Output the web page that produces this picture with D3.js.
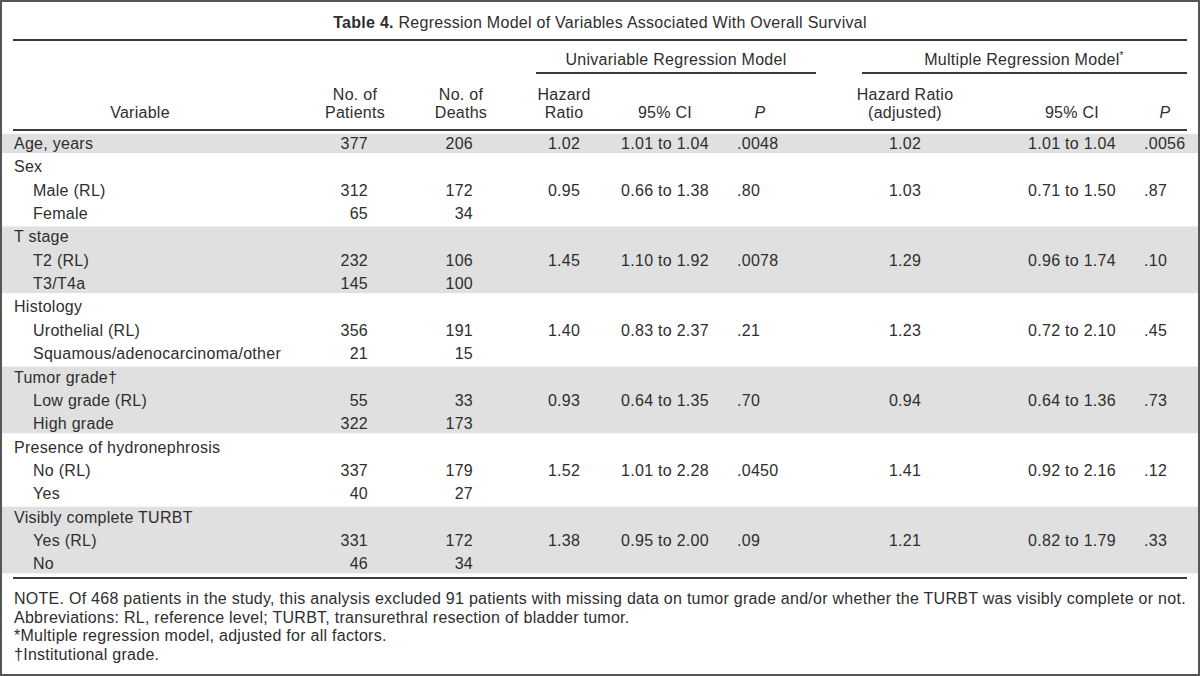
<!DOCTYPE html>
<html>
<head>
<meta charset="utf-8">
<script src="https://cdn.jsdelivr.net/npm/d3@7"></script>
<style>
  html, body { margin: 0; padding: 0; background: #fff; }
  svg { display: block; }
  text { font-family: "Liberation Sans", Arial, sans-serif; fill: #2e2e2e; letter-spacing: 0.27px; }
</style>
</head>
<body>
<svg id="chart" width="1200" height="676"></svg>
<script>
// ---------- data ----------
const titleBold = "Table 4.";
const titleRest = " Regression Model of Variables Associated With Overall Survival";

const spanHeaders = ["Univariable Regression Model", "Multiple Regression Model"];

const rowLabels = [
  "Age, years", "Sex", "Male (RL)", "Female", "T stage", "T2 (RL)", "T3/T4a",
  "Histology", "Urothelial (RL)", "Squamous/adenocarcinoma/other",
  "Tumor grade\u2020", "Low grade (RL)", "High grade",
  "Presence of hydronephrosis", "No (RL)", "Yes",
  "Visibly complete TURBT", "Yes (RL)", "No"
];
const rowLevels = [0, 0, 1, 1, 0, 1, 1, 0, 1, 1, 0, 1, 1, 0, 1, 1, 0, 1, 1];
const patients = ["377", "", "312", "65", "", "232", "145", "", "356", "21", "", "55", "322", "", "337", "40", "", "331", "46"];
const deaths   = ["206", "", "172", "34", "", "106", "100", "", "191", "15", "", "33", "173", "", "179", "27", "", "172", "34"];
const hr       = ["1.02", "", "0.95", "", "", "1.45", "", "", "1.40", "", "", "0.93", "", "", "1.52", "", "", "1.38", ""];
const ci       = ["1.01 to 1.04", "", "0.66 to 1.38", "", "", "1.10 to 1.92", "", "", "0.83 to 2.37", "", "", "0.64 to 1.35", "", "", "1.01 to 2.28", "", "", "0.95 to 2.00", ""];
const pUni     = [".0048", "", ".80", "", "", ".0078", "", "", ".21", "", "", ".70", "", "", ".0450", "", "", ".09", ""];
const hrAdj    = ["1.02", "", "1.03", "", "", "1.29", "", "", "1.23", "", "", "0.94", "", "", "1.41", "", "", "1.21", ""];
const ciAdj    = ["1.01 to 1.04", "", "0.71 to 1.50", "", "", "0.96 to 1.74", "", "", "0.72 to 2.10", "", "", "0.64 to 1.36", "", "", "0.92 to 2.16", "", "", "0.82 to 1.79", ""];
const pAdj     = [".0056", "", ".87", "", "", ".10", "", "", ".45", "", "", ".73", "", "", ".12", "", "", ".33", ""];

// shaded row groups [first, last] indices
const shadedGroups = [[0, 0], [4, 6], [10, 12], [16, 18]];

const notes = [
  "NOTE. Of 468 patients in the study, this analysis excluded 91 patients with missing data on tumor grade and/or whether the TURBT was visibly complete or not.",
  "Abbreviations: RL, reference level; TURBT, transurethral resection of bladder tumor.",
  "*Multiple regression model, adjusted for all factors.",
  "\u2020Institutional grade."
];

// ---------- layout ----------
const svg = d3.select("#chart");
const W = 1200, H = 676;
const left = 13, right = 1187;
const fs = 16;

const y = d3.scaleLinear().domain([0, rowLabels.length - 1]).range([143, 563.4]);

const columns = [
  { key: "patients", vals: patients, x: 368, anchor: "end", head: ["No. of", "Patients"], hx: 355 },
  { key: "deaths", vals: deaths, x: 473, anchor: "end", head: ["No. of", "Deaths"], hx: 461 },
  { key: "hr", vals: hr, x: 564, anchor: "middle", head: ["Hazard", "Ratio"], hx: 564 },
  { key: "ci", vals: ci, x: 665, anchor: "middle", head: ["95% CI"], hx: 665 },
  { key: "p", vals: pUni, x: 737, anchor: "start", head: ["P"], hx: 760, italic: true },
  { key: "hrAdj", vals: hrAdj, x: 905, anchor: "middle", head: ["Hazard Ratio", "(adjusted)"], hx: 905 },
  { key: "ciAdj", vals: ciAdj, x: 1072, anchor: "middle", head: ["95% CI"], hx: 1072 },
  { key: "pAdj", vals: pAdj, x: 1144, anchor: "start", head: ["P"], hx: 1165, italic: true }
];

// outer frame
svg.append("rect").attr("x", 1).attr("y", 1).attr("width", W - 2).attr("height", H - 2)
  .attr("fill", "#fff").attr("stroke", "#555").attr("stroke-width", 2);

// shading
svg.selectAll("rect.shade").data(shadedGroups).join("rect")
  .attr("class", "shade")
  .attr("x", 2).attr("width", W - 4)
  .attr("y", d => d[0] === 0 ? 134 : y(d[0]) - 10)
  .attr("height", d => (y(d[1]) + 10) - (d[0] === 0 ? 134 : y(d[0]) - 10))
  .attr("fill", "#e0e0e0");

// title
const t = svg.append("text").attr("x", 600).attr("y", 28).attr("text-anchor", "middle")
  .style("font-size", "16px");
t.append("tspan").attr("font-weight", "bold").text(titleBold);
t.append("tspan").text(titleRest);

// rules
const rules = [
  { x1: left, x2: right, y: 40, w: 2 },
  { x1: 536, x2: 816, y: 73, w: 2 },
  { x1: 862, x2: right, y: 73, w: 2 },
  { x1: left, x2: right, y: 130, w: 2.2 },
  { x1: left, x2: right, y: 578, w: 2 }
];
svg.selectAll("line.rule").data(rules).join("line")
  .attr("class", "rule")
  .attr("x1", d => d.x1).attr("x2", d => d.x2)
  .attr("y1", d => d.y).attr("y2", d => d.y)
  .attr("stroke", "#3a3a3a").attr("stroke-width", d => d.w);

// spanning headers
const spanX = [676, 1024];
svg.selectAll("text.span").data(spanHeaders).join("text")
  .attr("class", "span")
  .attr("x", (d, i) => spanX[i]).attr("y", 65)
  .attr("text-anchor", "middle").style("font-size", fs + "px")
  .each(function (d, i) {
    d3.select(this).append("tspan").text(d);
    if (i === 1) d3.select(this).append("tspan").attr("dy", -6).style("font-size", "10px").text("*");
  });

// column headers
svg.append("text").attr("x", 140).attr("y", 118).attr("text-anchor", "middle")
  .style("font-size", fs + "px").text("Variable");
columns.forEach(c => {
  const n = c.head.length;
  c.head.forEach((h, i) => {
    svg.append("text")
      .attr("x", c.hx)
      .attr("y", 118 - (n - 1 - i) * 18)
      .attr("text-anchor", "middle")
      .style("font-size", fs + "px")
      .style("font-style", c.italic ? "italic" : null)
      .text(h);
  });
});

// row labels
svg.selectAll("text.rowlabel").data(rowLabels).join("text")
  .attr("class", "rowlabel")
  .attr("x", (d, i) => rowLevels[i] ? 33 : 14)
  .attr("y", (d, i) => y(i) + 6)
  .style("font-size", fs + "px")
  .text(d => d);

// cells
columns.forEach(c => {
  svg.selectAll("text.c-" + c.key).data(c.vals).join("text")
    .attr("class", "c-" + c.key)
    .attr("x", c.x)
    .attr("y", (d, i) => y(i) + 6)
    .attr("text-anchor", c.anchor)
    .style("font-size", fs + "px")
    .text(d => d);
});

// notes
svg.selectAll("text.note").data(notes).join("text")
  .attr("class", "note")
  .attr("x", 14)
  .attr("y", (d, i) => 604 + i * 18.7)
  .style("font-size", fs + "px")
  .text(d => d);
</script>
</body>
</html>
